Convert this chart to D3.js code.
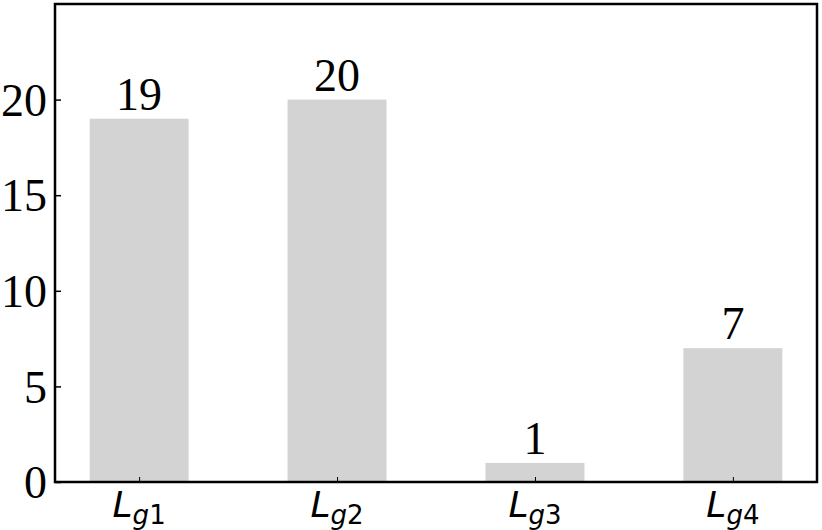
<!DOCTYPE html>
<html><head><meta charset="utf-8">
<script src="https://cdn.jsdelivr.net/npm/d3@7"></script>
<style>body{margin:0;background:#fff}svg{display:block}</style>
</head><body><svg id="c" width="822" height="530"></svg>
<script>
const categories = ["1", "2", "3", "4"];
const values = [19, 20, 1, 7];
const yTicks = [0, 5, 10, 15, 20];

const W = 822, H = 530;
const m = {l: 55, t: 4, r: 5, b: 48};
const svg = d3.select("#c");
const x = d3.scaleLinear().domain([-0.425, categories.length - 1 + 0.425]).range([m.l, W - m.r]);
const y = d3.scaleLinear().domain([0, 25]).range([H - m.b, m.t]);
const bw = 0.5;
const serif = "'Liberation Serif', 'Times New Roman', serif";

svg.selectAll("rect.bar").data(values).join("rect").attr("class", "bar")
  .attr("x", (d, i) => x(i - bw / 2)).attr("width", (d, i) => x(i + bw / 2) - x(i - bw / 2))
  .attr("y", d => y(d)).attr("height", d => y(0) - y(d)).attr("fill", "#d3d3d3");

svg.selectAll("text.val").data(values).join("text").attr("class", "val")
  .attr("x", (d, i) => x(i)).attr("y", d => y(d) - 9)
  .attr("text-anchor", "middle").attr("font-family", serif)
  .attr("font-size", 46).attr("fill", "#000").text(d => d);

const ya = svg.append("g").attr("transform", `translate(${m.l},0)`)
  .call(d3.axisLeft(y).tickValues(yTicks).tickSize(-6).tickPadding(8));
ya.select(".domain").remove();
ya.selectAll("line").attr("stroke", "#000").attr("stroke-width", 1.5);
ya.selectAll("text").attr("font-family", serif)
  .attr("font-size", 46).attr("fill", "#000").attr("dy", "0.34em");

const xa = svg.append("g").attr("transform", `translate(0,${H - m.b})`)
  .call(d3.axisBottom(x).tickValues(d3.range(categories.length)).tickSize(-5).tickFormat(""));
xa.select(".domain").remove();
xa.selectAll("line").attr("stroke", "#000").attr("stroke-width", 1);

const lab = svg.selectAll("text.xl").data(categories).join("text").attr("class", "xl")
  .attr("x", (d, i) => x(i)).attr("y", H - m.b + 35)
  .attr("text-anchor", "middle").attr("font-family", "'DejaVu Sans', sans-serif").attr("fill", "#000");
lab.append("tspan").attr("font-size", 36).attr("font-style", "italic").text("L");
lab.append("tspan").attr("font-size", 26).attr("font-style", "italic").attr("dy", 7).text("g");
lab.append("tspan").attr("font-size", 26).text(d => d);

svg.append("rect").attr("x", m.l).attr("y", m.t).attr("width", W - m.l - m.r).attr("height", H - m.t - m.b)
  .attr("fill", "none").attr("stroke", "#000").attr("stroke-width", 2.5);
</script></body></html>
